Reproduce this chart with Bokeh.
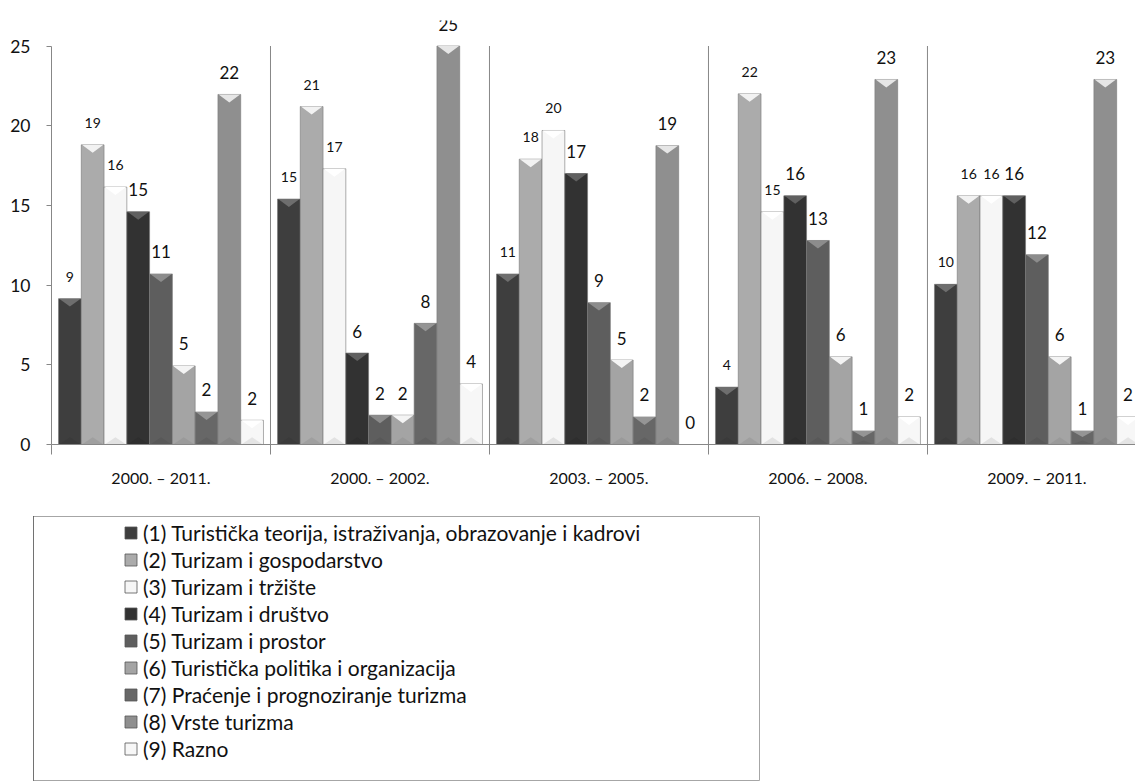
from bokeh.plotting import figure
from bokeh.models import FixedTicker, Legend, LegendItem, Range1d, Spacer
from bokeh.layouts import column, row
from bokeh.core.properties import value
from bokeh.embed import file_html
from bokeh.resources import INLINE

# ---------------- data ----------------
periods = ["2000. – 2011.", "2000. – 2002.", "2003. – 2005.", "2006. – 2008.", "2009. – 2011."]

series_names = [
    "(1) Turistička teorija, istraživanja, obrazovanje i kadrovi",
    "(2) Turizam i gospodarstvo",
    "(3) Turizam i tržište",
    "(4) Turizam i društvo",
    "(5) Turizam i prostor",
    "(6) Turistička politika i organizacija",
    "(7) Praćenje i prognoziranje turizma",
    "(8) Vrste turizma",
    "(9) Razno",
]

s1 = [9.15, 15.4, 10.7, 3.6, 10.05]
s2 = [18.8, 21.2, 17.9, 22.0, 15.6]
s3 = [16.15, 17.3, 19.7, 14.6, 15.6]
s4 = [14.6, 5.74, 17.0, 15.6, 15.6]
s5 = [10.7, 1.84, 8.9, 12.8, 11.9]
s6 = [4.93, 1.84, 5.3, 5.5, 5.5]
s7 = [2.04, 7.6, 1.73, 0.85, 0.85]
s8 = [21.96, 25.0, 18.75, 22.9, 22.9]
s9 = [1.52, 3.8, 0.0, 1.73, 1.73]
series_values = [s1, s2, s3, s4, s5, s6, s7, s8, s9]

y_ticks = [0, 5, 10, 15, 20, 25]

# ---------------- styles ----------------
fills = ["#3e3e3e", "#ababab", "#f6f6f6", "#323232", "#5e5e5e",
         "#a4a4a4", "#676767", "#8f8f8f", "#f7f7f7"]
tops = ["#6e6e6e", "#f2f2f2", "#ffffff", "#606060", "#8c8c8c",
        "#f4f4f4", "#959595", "#e6e6e6", "#ffffff"]
bots = ["#3a3a3a", "#9f9f9f", "#e2e2e2", "#2e2e2e", "#585858",
        "#9a9a9a", "#606060", "#868686", "#e4e4e4"]
label_sizes = ["14px", "14px", "14px", "17px", "17px", "17px", "17px", "17px", "17px"]
FONT = "Lato"
GRAY = "#878787"

n_groups = len(periods)
n_series = len(series_values)
pad = 0.032
bw = (1 - 2 * pad) / n_series

p = figure(width=1135, height=516,
           x_range=Range1d(0, 4.95), y_range=Range1d(0, 26.6),
           output_backend="svg", toolbar_location=None,
           min_border_left=51, min_border_right=0,
           min_border_top=20, min_border_bottom=72)
p.outline_line_color = None
p.grid.visible = False
p.background_fill_color = "white"

# group separators
bounds = list(range(1, n_groups))
p.segment(x0=bounds, y0=[0] * len(bounds), x1=bounds, y1=[25] * len(bounds),
          line_color=GRAY, line_width=1)

renderers = []
for k, vals in enumerate(series_values):
    xs = [g + pad + (k + 0.5) * bw for g in range(n_groups)]
    r = p.vbar(x=xs, top=vals, bottom=0, width=bw,
               fill_color=fills[k], line_color="#777777", line_width=0.6)
    renderers.append(r)
    # bevel: top triangle highlight and bottom triangle shade
    txs, tys, bxs, bys = [], [], [], []
    for x, v in zip(xs, vals):
        if v <= 0:
            continue
        d = min(0.5, v * 0.45)
        l, rr = x - bw / 2 + 0.003, x + bw / 2 - 0.003
        txs.append([l, rr, x])
        tys.append([v, v, v - d])
        bxs.append([l, rr, x])
        bys.append([0, 0, min(0.45, v * 0.3)])
    p.patches(txs, tys, fill_color=tops[k], line_color=None)
    p.patches(bxs, bys, fill_color=bots[k], line_color=None)
    labels = [str(int(v + 0.5)) for v in vals]
    p.text(x=xs, y=vals, text=labels, y_offset=-22,
           text_align="center", text_baseline="middle",
           text_font=value(FONT), text_font_size=label_sizes[k], text_color="#111111")

# y axis
p.yaxis.ticker = FixedTicker(ticks=y_ticks)
p.yaxis.bounds = (0, 25)
p.yaxis.axis_line_color = GRAY
p.yaxis.major_tick_line_color = GRAY
p.yaxis.major_tick_out = 5
p.yaxis.major_tick_in = 0
p.yaxis.minor_tick_line_color = None
p.yaxis.major_label_standoff = 16
p.yaxis.major_label_text_font = FONT
p.yaxis.major_label_text_font_size = "17.5px"
p.yaxis.major_label_text_color = "#111111"

# x axis
centers = [g + 0.5 for g in range(n_groups)]
p.xaxis.ticker = FixedTicker(ticks=centers, minor_ticks=list(range(0, n_groups)))
p.xaxis.major_label_overrides = {c: lab for c, lab in zip(centers, periods)}
p.xaxis.axis_line_color = GRAY
p.xaxis.major_tick_line_color = None
p.xaxis.major_tick_out = 0
p.xaxis.major_tick_in = 0
p.xaxis.minor_tick_line_color = GRAY
p.xaxis.minor_tick_out = 10
p.xaxis.minor_tick_in = 0
p.xaxis.major_label_standoff = 13
p.xaxis.major_label_text_font = FONT
p.xaxis.major_label_text_font_size = "16px"
p.xaxis.major_label_text_color = "#111111"

# ---------------- legend panel ----------------
f2 = figure(width=727, height=265, x_range=Range1d(0, 1), y_range=Range1d(0, 1),
            output_backend="svg", toolbar_location=None, min_border=0)
f2.axis.visible = False
f2.grid.visible = False
f2.outline_line_color = "#a6a6a6"
items = []
for k, name in enumerate(series_names):
    r = f2.vbar(x=[-5], top=[1], width=0.1, fill_color=fills[k], line_color="#555555", line_width=0.8)
    items.append(LegendItem(label=name, renderers=[r]))
leg = Legend(items=items, location=(90, 20), orientation="vertical",
             border_line_color=None, background_fill_alpha=0,
             padding=0, margin=0, spacing=2, label_height=21,
             glyph_width=15, glyph_height=15, label_standoff=5,
             label_text_font=FONT, label_text_font_size="21px", label_text_color="#111111")
f2.add_layout(leg, "center")

layout = column(p, row(Spacer(width=33, height=265), f2))
open("out.html", "w").write(file_html(layout, INLINE))
